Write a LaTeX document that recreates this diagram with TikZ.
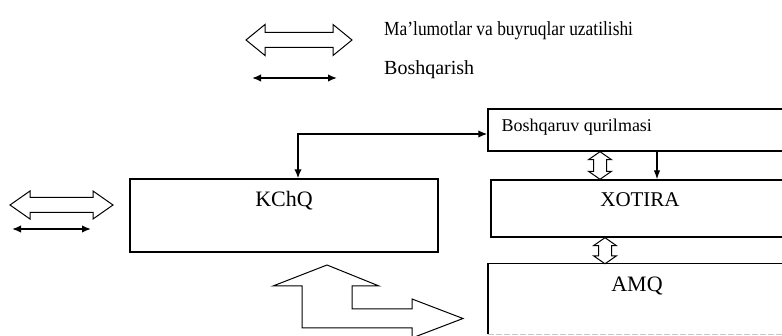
\documentclass[tikz,border=0pt]{standalone}
\usepackage{fontspec}
\setmainfont{Liberation Serif}
\usetikzlibrary{arrows.meta,calc}

% hollow double-headed bus arrow, horizontal: left tip, right tip, shaft half, head half, head length
\newcommand\hbus[5]{%
  \draw[bus] let \p1=(#1), \p2=(#2) in
    (\x1,\y1) -- (\x1+#5,\y1+#4) -- (\x1+#5,\y1+#3) -- (\x2-#5,\y1+#3)
    -- (\x2-#5,\y1+#4) -- (\x2,\y1) -- (\x2-#5,\y1-#4) -- (\x2-#5,\y1-#3)
    -- (\x1+#5,\y1-#3) -- (\x1+#5,\y1-#4) -- cycle;}
% hollow double-headed bus arrow, vertical: top tip, bottom tip, shaft half, head half, head length
\newcommand\vbus[5]{%
  \draw[bus] let \p1=(#1), \p2=(#2) in
    (\x1,\y1) -- (\x1+#4,\y1-#5) -- (\x1+#3,\y1-#5) -- (\x1+#3,\y2+#5)
    -- (\x1+#4,\y2+#5) -- (\x1,\y2) -- (\x1-#4,\y2+#5) -- (\x1-#3,\y2+#5)
    -- (\x1-#3,\y1-#5) -- (\x1-#4,\y1-#5) -- cycle;}

\begin{document}
\begin{tikzpicture}[x=1pt,y=1pt,
  box/.style={draw, line width=1.4pt, rectangle, inner sep=0pt},
  bus/.style={draw, line width=1pt, fill=white, line join=miter},
  ctrl/.style={line width=1.6pt, {Latex[length=9pt,width=7.5pt]}-{Latex[length=9pt,width=7.5pt]}},
  ctrlone/.style={line width=1.1pt, -{Latex[length=9pt,width=6.5pt]}},
  lbl/.style={font=\fontsize{20}{22}\selectfont, inner sep=0pt},
]
\useasboundingbox (0,0) rectangle (782,336);
\clip (0,0) rectangle (782,336);

% legend
\coordinate (lgBusL) at (246,296);
\coordinate (lgBusR) at (352,296);
\hbus{lgBusL}{lgBusR}{7.5}{15.5}{19}
\coordinate (lgCtlL) at (252,258);
\coordinate (lgCtlR) at (337,258);
\draw[ctrl] (lgCtlL) -- (lgCtlR);
\node[lbl, anchor=base west, xscale=0.87] (lgBusText) at (384,300) {Ma’lumotlar va buyruqlar uzatilishi};
\node[lbl, anchor=base west] (lgCtlText) at (384,261) {Boshqarish};

% external links on the left
\coordinate (exBusL) at (10,131);
\coordinate (exBusR) at (113,131);
\hbus{exBusL}{exBusR}{7.5}{14}{20}
\coordinate (exCtlL) at (12,107);
\coordinate (exCtlR) at (91,107);
\draw[ctrl] (exCtlL) -- (exCtlR);

% blocks
\node[box, minimum width=308pt, minimum height=73pt] (kchq) at (284,120.5) {};
\node[lbl, anchor=base, font=\fontsize{22}{24}\selectfont] at ([yshift=-28pt]kchq.north) {KChQ};

\node[box, minimum width=302pt, minimum height=42pt] (bq) at (639,206) {};
\node[lbl, anchor=base west, font=\fontsize{18}{20}\selectfont] at ([xshift=14pt,yshift=-2pt]bq.west) {Boshqaruv qurilmasi};

\node[box, minimum width=298pt, minimum height=57pt] (xot) at (640,127.5) {};
\node[lbl, anchor=base, font=\fontsize{21}{23}\selectfont] at ([yshift=-27pt]xot.north) {XOTIRA};

\node[minimum width=298pt, minimum height=70pt, inner sep=0pt] (amq) at (637,37) {};
\draw[line width=1.4pt] (amq.south west) -- (amq.north west) -- (amq.north east);
\draw[line width=0.8pt, gray!45, dash pattern=on 6pt off 2pt] (amq.south west) -- (amq.south east);
\node[lbl, anchor=base, font=\fontsize{22}{24}\selectfont] at ([yshift=-28pt]amq.north) {AMQ};

% control lines
\draw[ctrl] ([xshift=14pt]kchq.north) |- ([yshift=-4pt]bq.west);
\coordinate (cx) at (657,0);
\draw[ctrlone] (bq.south -| cx) -- (xot.north -| cx);

% buses between blocks
\coordinate (b1) at (600,0);
\vbus{bq.south -| b1}{xot.north -| b1}{6.5}{11.5}{8}
\coordinate (b2) at (605,0);
\vbus{xot.south -| b2}{amq.north -| b2}{6.5}{11.5}{8}

% bus leaving the processor downwards and to the right
\draw[bus] (327,71) -- (379,50) -- (352,50) -- (352,27) -- (412,27) -- (412,37)
  -- (463,17.5) -- (412,-2) -- (412,8) -- (302,8) -- (302,50) -- (273,50) -- cycle;
\end{tikzpicture}
\end{document}
